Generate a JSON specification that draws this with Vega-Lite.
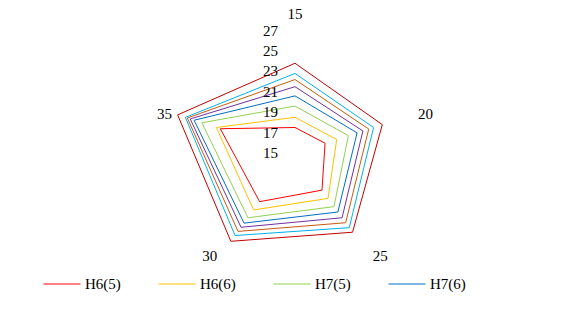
{
  "$schema": "https://vega.github.io/schema/vega-lite/v6.json",
  "width": 565,
  "height": 309,
  "padding": 0,
  "autosize": {"type": "none"},
  "background": "white",
  "config": {"view": {"stroke": null}, "font": "Liberation Serif, DejaVu Serif, serif"},
  "datasets": {
    "series": [
      {"series": "H6(5)", "axis": 15, "value": 17.5},
      {"series": "H6(5)", "axis": 20, "value": 18.1},
      {"series": "H6(5)", "axis": 25, "value": 19.5},
      {"series": "H6(5)", "axis": 30, "value": 20.9},
      {"series": "H6(5)", "axis": 35, "value": 22.7},
      {"series": "H6(6)", "axis": 15, "value": 18.5},
      {"series": "H6(6)", "axis": 20, "value": 19.3},
      {"series": "H6(6)", "axis": 25, "value": 20.5},
      {"series": "H6(6)", "axis": 30, "value": 21.9},
      {"series": "H6(6)", "axis": 35, "value": 23.1},
      {"series": "H7(5)", "axis": 15, "value": 19.6},
      {"series": "H7(5)", "axis": 20, "value": 20.5},
      {"series": "H7(5)", "axis": 25, "value": 21.5},
      {"series": "H7(5)", "axis": 30, "value": 22.85},
      {"series": "H7(5)", "axis": 35, "value": 24.6},
      {"series": "H7(6)", "axis": 15, "value": 20.6},
      {"series": "H7(6)", "axis": 20, "value": 21.4},
      {"series": "H7(6)", "axis": 25, "value": 22.15},
      {"series": "H7(6)", "axis": 30, "value": 23.5},
      {"series": "H7(6)", "axis": 35, "value": 25.4},
      {"series": "H8(5)", "axis": 15, "value": 21.5},
      {"series": "H8(5)", "axis": 20, "value": 22.0},
      {"series": "H8(5)", "axis": 25, "value": 22.85},
      {"series": "H8(5)", "axis": 30, "value": 24.0},
      {"series": "H8(5)", "axis": 35, "value": 25.8},
      {"series": "H8(6)", "axis": 15, "value": 22.2},
      {"series": "H8(6)", "axis": 20, "value": 22.6},
      {"series": "H8(6)", "axis": 25, "value": 23.45},
      {"series": "H8(6)", "axis": 30, "value": 24.5},
      {"series": "H8(6)", "axis": 35, "value": 26.1},
      {"series": "H9(5)", "axis": 15, "value": 22.8},
      {"series": "H9(5)", "axis": 20, "value": 23.1},
      {"series": "H9(5)", "axis": 25, "value": 24.05},
      {"series": "H9(5)", "axis": 30, "value": 25.0},
      {"series": "H9(5)", "axis": 35, "value": 26.3},
      {"series": "H9(6)", "axis": 15, "value": 23.8},
      {"series": "H9(6)", "axis": 20, "value": 24.0},
      {"series": "H9(6)", "axis": 25, "value": 24.6},
      {"series": "H9(6)", "axis": 30, "value": 25.7},
      {"series": "H9(6)", "axis": 35, "value": 27.1}
    ],
    "ticks": [{"v": 15}, {"v": 17}, {"v": 19}, {"v": 21}, {"v": 23}, {"v": 25}, {"v": 27}],
    "cats": [{"c": "15", "axis": 15}, {"c": "20", "axis": 20}, {"c": "25", "axis": 25}, {"c": "30", "axis": 30}, {"c": "35", "axis": 35}]
  },
  "layer": [
    {
      "data": {"name": "series"},
      "transform": [
        {"calculate": "(datum.axis - 15) / 5", "as": "i"},
        {"calculate": "(datum.value - 15) * sin(datum.i * 2 * PI / 5)", "as": "px"},
        {"calculate": "(datum.value - 15) * cos(datum.i * 2 * PI / 5)", "as": "py"}
      ],
      "mark": {"type": "line", "interpolate": "linear-closed", "strokeWidth": 1},
      "encoding": {
        "x": {"field": "px", "type": "quantitative", "scale": {"domain": [-28.922, 26.471], "nice": false, "zero": false}, "axis": null},
        "y": {"field": "py", "type": "quantitative", "scale": {"domain": [-15.294, 15.0], "nice": false, "zero": false}, "axis": null},
        "order": {"field": "i", "type": "quantitative"},
        "color": {
          "field": "series",
          "type": "nominal",
          "scale": {
            "domain": ["H6(5)", "H6(6)", "H7(5)", "H7(6)", "H8(5)", "H8(6)", "H9(5)", "H9(6)"],
            "range": ["#FF0000", "#FFC000", "#92D050", "#0070C0", "#7030A0", "#C55A11", "#00B0F0", "#C00000"]
          },
          "legend": {
            "values": ["H6(5)", "H6(6)", "H7(5)", "H7(6)"],
            "orient": "none",
            "legendX": 43,
            "legendY": 265,
            "direction": "horizontal",
            "title": null,
            "symbolType": "stroke",
            "symbolSize": 1369,
            "symbolStrokeWidth": 1,
            "labelFont": "Liberation Serif, DejaVu Serif, serif",
            "labelFontSize": 15,
            "labelColor": "black",
            "labelOffset": 4,
            "columnPadding": 35,
            "padding": 0,
            "labelLimit": 0
          }
        }
      }
    },
    {
      "data": {"name": "ticks"},
      "transform": [
        {"calculate": "0", "as": "px"},
        {"calculate": "datum.v - 15", "as": "py"}
      ],
      "mark": {"type": "text", "align": "right", "baseline": "middle", "dx": -17, "fontSize": 15, "font": "Liberation Serif, DejaVu Serif, serif", "color": "black"},
      "encoding": {
        "x": {"field": "px", "type": "quantitative", "scale": {"domain": [-28.922, 26.471], "nice": false, "zero": false}, "axis": null},
        "y": {"field": "py", "type": "quantitative", "scale": {"domain": [-15.294, 15.0], "nice": false, "zero": false}, "axis": null},
        "text": {"field": "v", "type": "quantitative"}
      }
    },
    {
      "data": {"name": "cats"},
      "transform": [
        {"calculate": "(datum.axis - 15) / 5", "as": "i"},
        {"calculate": "datum.axis == 15 ? 13.63 : (datum.axis == 20 || datum.axis == 35) ? 13.45 : 14.2", "as": "kx"},
        {"calculate": "datum.axis == 15 ? 13.63 : (datum.axis == 20 || datum.axis == 35) ? 12.3 : 12.5", "as": "ky"},
        {"calculate": "datum.kx * sin(datum.i * 2 * PI / 5)", "as": "px"},
        {"calculate": "datum.ky * cos(datum.i * 2 * PI / 5)", "as": "py"}
      ],
      "mark": {"type": "text", "align": "center", "baseline": "middle", "fontSize": 15, "font": "Liberation Serif, DejaVu Serif, serif", "color": "black"},
      "encoding": {
        "x": {"field": "px", "type": "quantitative", "scale": {"domain": [-28.922, 26.471], "nice": false, "zero": false}, "axis": null},
        "y": {"field": "py", "type": "quantitative", "scale": {"domain": [-15.294, 15.0], "nice": false, "zero": false}, "axis": null},
        "text": {"field": "c", "type": "nominal"}
      }
    }
  ]
}
